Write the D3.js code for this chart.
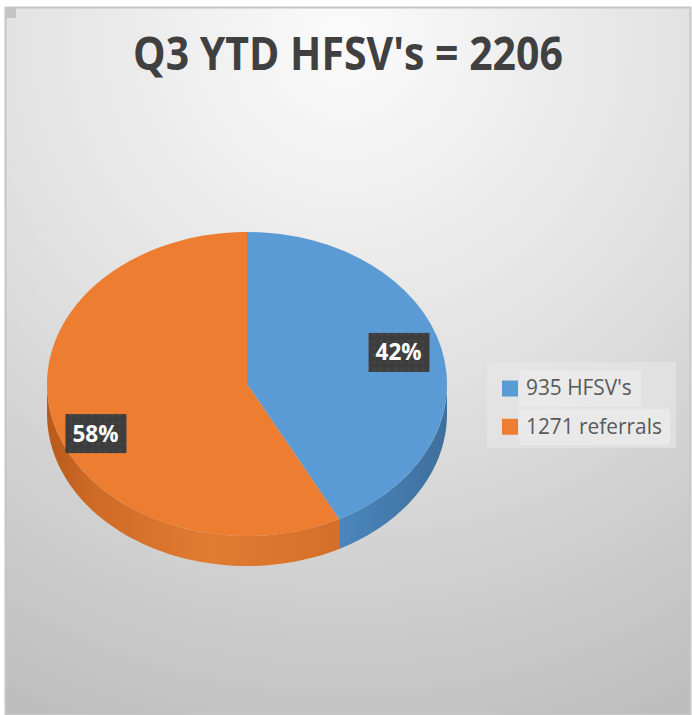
<!DOCTYPE html>
<html>
<head>
<meta charset="utf-8">
<script src="https://cdn.jsdelivr.net/npm/d3@7"></script>
<style>
  body { margin: 0; background: #fff; }
  svg { display: block; }
</style>
</head>
<body>
<svg id="chart" width="692" height="715"></svg>
<script>
// values
const categories = ["935 HFSV's", "1271 referrals"];
const values = [935, 1271];
const colors = ["#5B9BD5", "#ED7D31"];
const sideDark = ["#3f6f9c", "#b85a1c"];
const sideLight = ["#4a86bd", "#e27b32"];
const titleText = "Q3 YTD HFSV's = 2206";

const W = 692, H = 715;
const svg = d3.select("svg#chart");
const defs = svg.append("defs");

// panel background
const bg = defs.append("radialGradient")
    .attr("id", "bg")
    .attr("gradientUnits", "userSpaceOnUse")
    .attr("cx", 346).attr("cy", 40).attr("r", 760);
bg.append("stop").attr("offset", "0").attr("stop-color", "#fbfbfb");
bg.append("stop").attr("offset", "0.45").attr("stop-color", "#e2e2e2");
bg.append("stop").attr("offset", "1").attr("stop-color", "#bcbcbc");

svg.append("rect")
   .attr("x", 5.5).attr("y", 7.5)
   .attr("width", 685).attr("height", 707)
   .attr("fill", "url(#bg)")
   .attr("stroke", "#c6c6c6")
   .attr("stroke-width", 2);
svg.append("rect")
   .attr("x", 6).attr("y", 8)
   .attr("width", 10).attr("height", 10)
   .attr("fill", "#c4c4c4");

// title (stretched a little to look like the narrow original face)
const title = svg.append("text")
   .attr("text-anchor", "middle")
   .attr("font-family", "'Open Sans', sans-serif")
   .attr("font-weight", "bold")
   .attr("font-size", 42)
   .attr("fill", "#404040")
   .text(titleText);
const tw = title.node().getComputedTextLength();
title.attr("font-size", 42 * 430 / tw)
     .attr("transform", "translate(348,70) scale(1,1.15)");

// pie geometry
const cx = 247, cy = 384, rx = 200, ry = 152, depth = 30;
const pie = d3.pie().sort(null).value(d => d);
const arcs = pie(values);

const px = a => cx + rx * Math.sin(a);
const py = a => cy - ry * Math.cos(a);

// side gradients
arcs.forEach((d, i) => {
    const a0 = Math.max(d.startAngle, Math.PI / 2);
    const a1 = Math.min(d.endAngle, Math.PI * 1.5);
    const g = defs.append("linearGradient")
        .attr("id", "side" + i)
        .attr("gradientUnits", "userSpaceOnUse")
        .attr("x1", px(a0)).attr("x2", px(a1))
        .attr("y1", 0).attr("y2", 0);
    if (i === 0) {
        g.append("stop").attr("offset", "0").attr("stop-color", sideDark[i]);
        g.append("stop").attr("offset", "1").attr("stop-color", sideLight[i]);
    } else {
        g.append("stop").attr("offset", "0").attr("stop-color", "#d56e27");
        g.append("stop").attr("offset", "0.45").attr("stop-color", sideLight[i]);
        g.append("stop").attr("offset", "0.85").attr("stop-color", "#cd6a25");
        g.append("stop").attr("offset", "1").attr("stop-color", sideDark[i]);
    }
});

// label box pattern
const pat = defs.append("pattern")
    .attr("id", "dots")
    .attr("patternUnits", "userSpaceOnUse")
    .attr("width", 7).attr("height", 7);
pat.append("rect").attr("width", 7).attr("height", 7).attr("fill", "#3d3d3d");
pat.append("circle").attr("cx", 3.5).attr("cy", 3.5).attr("r", 1.2).attr("fill", "#4a4a4a");

function sidePath(a0, a1) {
    const steps = 60;
    const pts = d3.range(steps + 1).map(k => a0 + (a1 - a0) * k / steps);
    let p = "M" + px(a0) + "," + py(a0);
    pts.forEach(a => { p += "L" + px(a) + "," + py(a); });
    pts.slice().reverse().forEach(a => { p += "L" + px(a) + "," + (py(a) + depth); });
    return p + "Z";
}

const gSide = svg.append("g");
arcs.forEach((d, i) => {
    const a0 = Math.max(d.startAngle, Math.PI / 2);
    const a1 = Math.min(d.endAngle, Math.PI * 1.5);
    if (a1 <= a0) return;
    gSide.append("path")
         .attr("d", sidePath(a0, a1))
         .attr("fill", "url(#side" + i + ")");
});

// top face
const arc = d3.arc().innerRadius(0).outerRadius(rx);
svg.append("g")
   .attr("transform", `translate(${cx},${cy}) scale(1,${ry / rx})`)
   .selectAll("path")
   .data(arcs)
   .enter().append("path")
   .attr("d", arc)
   .attr("fill", (d, i) => colors[i]);

// data labels
const total = d3.sum(values);
const labelShift = [-4, 21];
const gLab = svg.selectAll(".lab")
   .data(arcs)
   .enter().append("g")
   .attr("class", "lab")
   .attr("transform", (d, i) => {
       const m = (d.startAngle + d.endAngle) / 2;
       const x = cx + rx * 0.78 * Math.sin(m);
       const y = cy - ry * 0.78 * Math.cos(m) + labelShift[i];
       return `translate(${x},${y})`;
   });
gLab.append("rect")
    .attr("x", -30).attr("y", -19)
    .attr("width", 61).attr("height", 39)
    .attr("fill", "url(#dots)");
gLab.append("text")
    .attr("text-anchor", "middle")
    .attr("y", 8.5)
    .attr("font-family", "'Open Sans', sans-serif")
    .attr("font-weight", "bold")
    .attr("font-size", 23)
    .attr("fill", "#fff")
    .attr("textLength", 46)
    .attr("lengthAdjust", "spacingAndGlyphs")
    .text(d => Math.round(d.value / total * 100) + "%");

// legend
const leg = svg.append("g").attr("transform", "translate(487,362)");
leg.append("rect")
   .attr("width", 189).attr("height", 86)
   .attr("fill", "#e7e7e7")
   .attr("opacity", 0.6);
const y = d3.scaleBand().domain(categories).range([6, 84]).padding(0.04);
const item = leg.selectAll(".item")
   .data(categories)
   .enter().append("g")
   .attr("class", "item")
   .attr("transform", d => `translate(0,${y(d)})`);
item.append("rect")
    .attr("x", 32).attr("y", 1)
    .attr("height", 36)
    .attr("width", (d, i) => i === 0 ? 122 : 151)
    .attr("fill", "#ededed")
    .attr("opacity", 0.7);
item.append("rect")
    .attr("x", 15).attr("y", 11)
    .attr("width", 16).attr("height", 16)
    .attr("fill", (d, i) => colors[i]);
const lt = item.append("text")
    .attr("x", 39).attr("y", 26)
    .attr("font-family", "'Open Sans', sans-serif")
    .attr("font-size", 20)
    .attr("fill", "#595959")
    .text(d => d);
const l1 = lt.nodes()[1].getComputedTextLength();
lt.attr("font-size", 20 * 136 / l1)
  .attr("transform", "scale(1,1.08)")
  .attr("y", 24);
</script>
</body>
</html>
